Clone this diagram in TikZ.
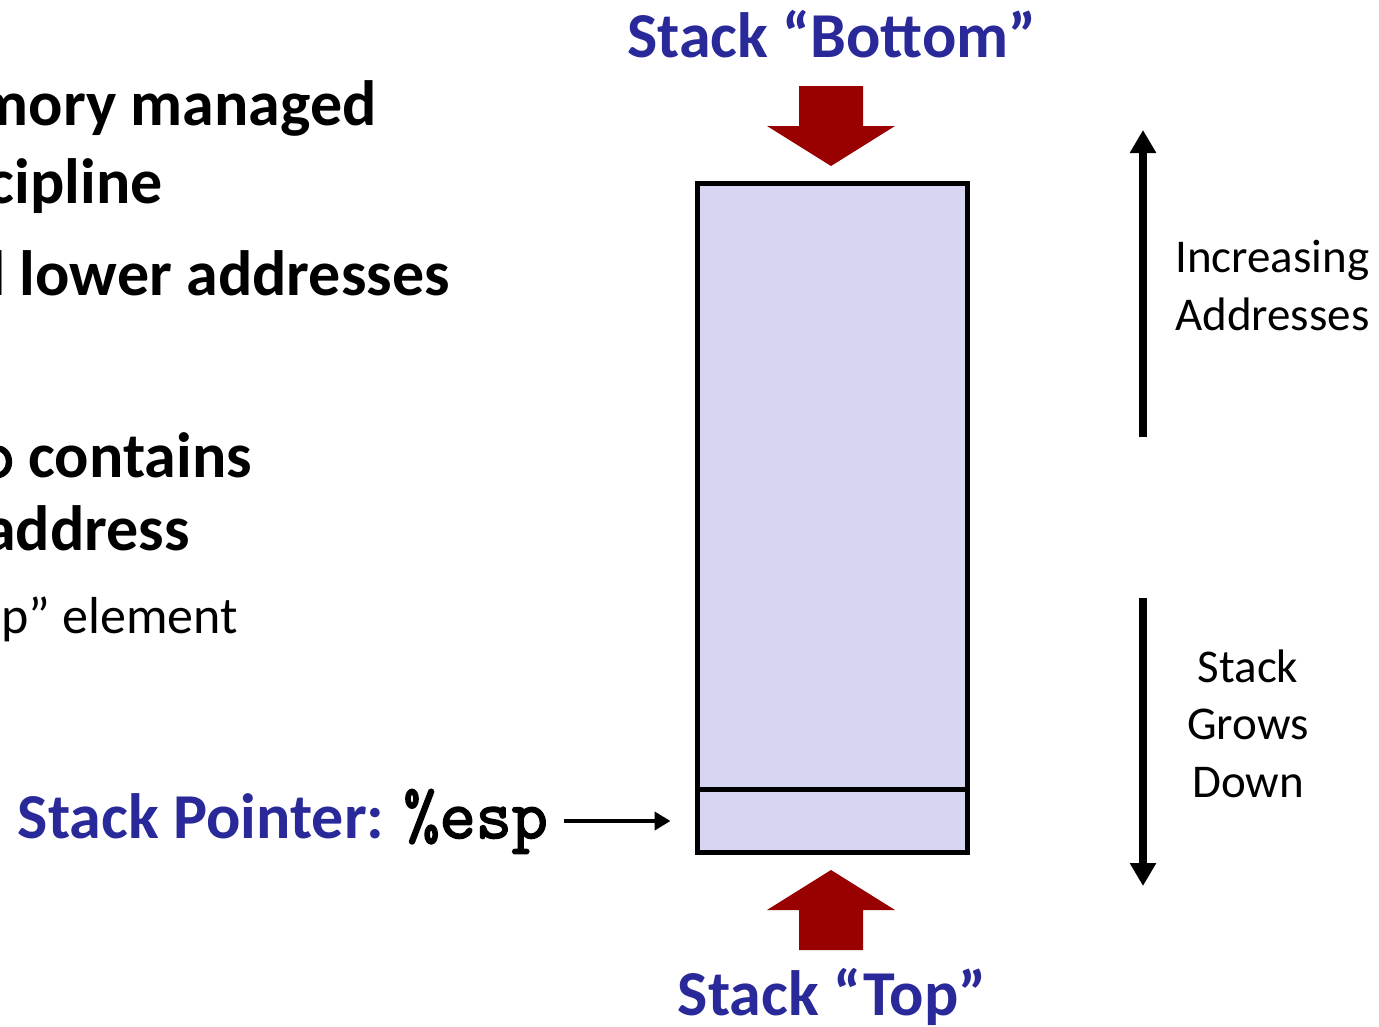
\documentclass[tikz,border=0pt]{standalone}
\usepackage{fontspec}
\setmainfont{Carlito}
\setmonofont[AutoFakeBold=2.5]{Latin Modern Mono}
\usetikzlibrary{arrows.meta,positioning}

\definecolor{slideblue}{RGB}{41,41,153}
\definecolor{slidered}{RGB}{153,0,0}
\definecolor{stackfill}{RGB}{214,214,242}

\tikzset{
    stackbox/.style = {
        draw,
        line width=5pt,
        fill=stackfill,
        rectangle,
        outer sep=0pt,
        minimum width=270pt
    },
    blockarrow/.style = {
        fill=slidered
    },
    title/.style = {
        font=\fontsize{64pt}{76pt}\selectfont\bfseries,
        text=slideblue,
        inner sep=0pt
    },
    bullet/.style = {
        font=\fontsize{64pt}{76pt}\selectfont\bfseries,
        inner sep=0pt,
        anchor=base east
    },
    label/.style = {
        font=\fontsize{47pt}{57.5pt}\selectfont,
        inner sep=0pt
    },
    ptr/.style = {
        line width=4pt,
        -{Triangle[length=16pt,width=18pt]}
    },
    direction/.style = {
        line width=8pt,
        -{Triangle[length=23pt,width=25pt]}
    }
}

\begin{document}
\begin{tikzpicture}[x=1pt,y=-1pt]
    \useasboundingbox (0,0) rectangle (1379,1026);
    \clip (0,0) rectangle (1379,1026);

    % Draw the bullet text cut at the left edge
    \node[bullet] (line1) at (377,125) {mory managed};
    \node[bullet] (line2) at (163,203) {cipline};
    \node[bullet] (line3) at (450,295) {d lower addresses};
    \node[bullet] (line4) at (252,477) {{\ttfamily\fontsize{70pt}{76pt}\selectfont p} contains};
    \node[bullet] (line5) at (190,550) {address};
    \node[bullet, font=\fontsize{52pt}{62pt}\selectfont] (line6) at (238,633) {p” element};

    % Draw the stack
    \node[stackbox, minimum height=606pt] (stack) at (832.5,486.5) {};
    \node[stackbox, minimum height=63pt, below=0pt of stack] (slot) {};

    % Draw the block arrows
    \fill[blockarrow] (799,86) -- (863,86) -- (863,126) -- (895,126) -- (831,166)
        -- (767,126) -- (799,126) -- cycle;
    \fill[blockarrow] (799,950) -- (863,950) -- (863,910) -- (895,910) -- (831,870)
        -- (767,910) -- (799,910) -- cycle;

    % Draw titles
    \node[title, anchor=base] (bottom) at (832,57) {Stack “Bottom”};
    \node[title, anchor=base] (top) at (832,1015) {Stack “Top”};
    \node[title, anchor=base east] (esp) at (548,838)
        {Stack Pointer: {\color{black}\ttfamily\fontsize{70pt}{76pt}\selectfont\bfseries\%esp}};
    \draw[ptr, shorten <=16pt, shorten >=27pt] (slot.west -| esp.east) -- (slot.west);

    % Draw directions
    \coordinate (incbot) at (1143,437);
    \coordinate (inctop) at (1143,130);
    \coordinate (growtop) at (1143,598);
    \coordinate (growbot) at (1143,886);
    \draw[direction] (incbot) -- (inctop);
    \draw[direction] (growtop) -- (growbot);

    \node[label, align=left, anchor=base west] (incr) at (1175,330) {Increasing\\Addresses};
    \node[label, align=center, anchor=base] (grow) at (1248,797) {Stack\\Grows\\Down};
\end{tikzpicture}
\end{document}
